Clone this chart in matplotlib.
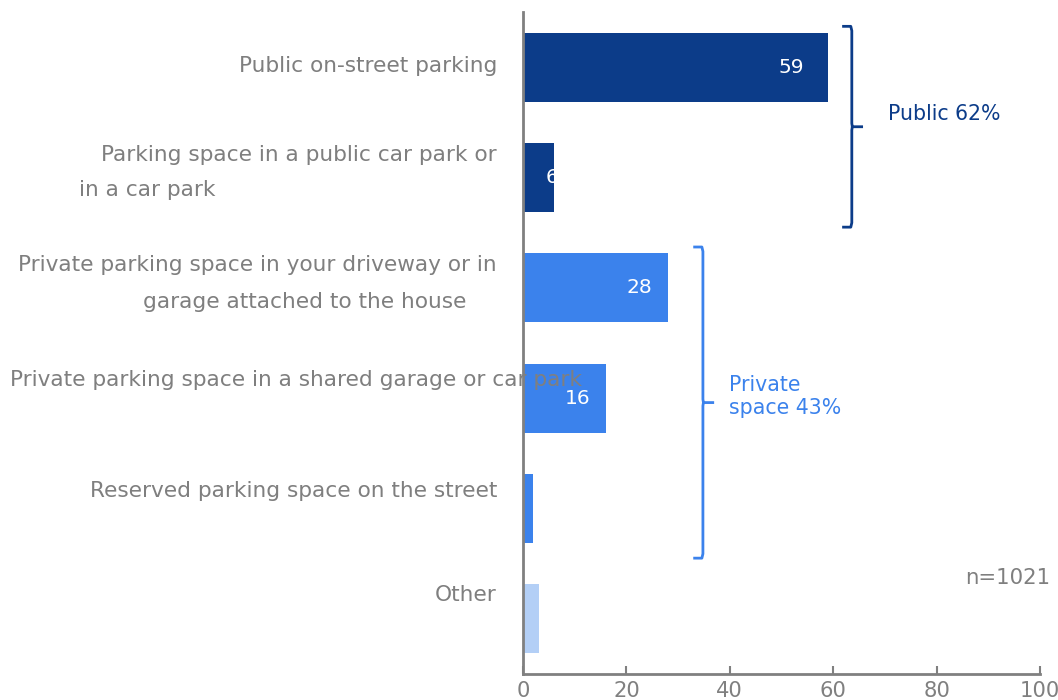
import matplotlib.pyplot as plt
import matplotlib.transforms as mtransforms

plt.rcParams['font.family'] = ['DejaVu Sans']

categories = [
    "Public on-street parking",
    "Parking space in a public car park or\nin a car park",
    "Private parking space in your driveway or in\ngarage attached to the house",
    "Private parking space in a shared garage or car park",
    "Reserved parking space on the street",
    "Other",
]
values = [59, 6, 28, 16, 2, 3]
shown_values = [59, 6, 28, 16, None, None]
groups = ["public", "public", "private", "private", "private", "other"]

group_names = ["public", "private"]
group_labels = ["Public 62%", "Private\nspace 43%"]
sample_note = "n=1021"

palette = {"public": "#0c3c89", "private": "#3b82ec", "other": "#b3cff6"}
label_gray = "#7f7f7f"

# per label line: (ha, x offset from axis in px, y offset from bar centre in px)
line_layout = [
    [("right", -26, -1)],
    [("right", -26, -23), ("left", -444, 12)],
    [("right", -26, -23), ("right", -57, 14)],
    [("left", -513, -18)],
    [("right", -26, -18)],
    [("right", -26, -24)],
]
# horizontal nudge of each value label from the bar end, px
value_dx = [-24, 4, -16, -15, 0, 0]
# bracket distance past the longest bar of the group; text offsets in px
bracket_pad = [4.6, 6.8]
bracket_text_dx = [36, 26]
bracket_text_dy = [13, 6]

fig = plt.figure(figsize=(10.58, 7), dpi=100)
ax = fig.add_axes([523 / 1058, 26 / 700, 517 / 1058, 662 / 700])

ypos = list(range(len(categories)))
bars = ax.barh(ypos, values, height=0.627, color=[palette[g] for g in groups])
ax.set_xlim(0, 100)
ax.set_ylim(len(categories) - 0.5, -0.5)

ax.set_yticks([])
ax.set_xticks(range(0, 101, 20))
ax.tick_params(axis='x', direction='in', length=6, width=1.5, colors='#808080',
               labelsize=15.2, pad=5)
for side in ("top", "right"):
    ax.spines[side].set_visible(False)
for side in ("left", "bottom"):
    ax.spines[side].set_color("#808080")
    ax.spines[side].set_linewidth(2)

# category labels, placed line by line
lab_tr = mtransforms.blended_transform_factory(ax.transAxes, ax.transData)
for i, (name, layout) in enumerate(zip(categories, line_layout)):
    for line, (ha, dx, dy) in zip(name.split("\n"), layout):
        ax.annotate(line, xy=(0, i), xycoords=lab_tr,
                    xytext=(dx * 0.72, -dy * 0.72), textcoords='offset points',
                    ha=ha, va='center', fontsize=15.6, color=label_gray,
                    annotation_clip=False)

# value labels inside the bars, clipped to the bar
for i, v in enumerate(shown_values):
    if v is None:
        continue
    t = ax.annotate(str(v), xy=(v, i), xytext=(value_dx[i] * 0.72, 0), textcoords='offset points',
                    ha='right', va='center', fontsize=14.5, color='white')
    t.set_clip_path(bars.patches[i])

# brackets grouping the bars
for k, name in enumerate(group_names):
    idx = [i for i, g in enumerate(groups) if g == name]
    top, bottom = idx[0] - 0.37, idx[-1] + 0.45
    mid = (top + bottom) / 2
    x = max(values[i] for i in idx) + bracket_pad[k]
    col = palette[name]
    ax.plot([x - 1.6, x - 0.2, x, x, x + 0.1, x + 1.9], [top, top, top + 0.04, mid - 0.03, mid, mid],
            color=col, lw=2, clip_on=False, solid_joinstyle='round')
    ax.plot([x - 1.6, x - 0.2, x, x, x + 0.1], [bottom, bottom, bottom - 0.04, mid + 0.03, mid],
            color=col, lw=2, clip_on=False, solid_joinstyle='round')
    ax.annotate(group_labels[k], xy=(x, mid),
                xytext=(bracket_text_dx[k] * 0.72, bracket_text_dy[k] * 0.72),
                textcoords='offset points', ha='left', va='center',
                fontsize=14.8, color=col, linespacing=1.2)

fig.text(1050 / 1058, 1 - 578 / 700, sample_note, ha='right', va='center',
         fontsize=15.3, color=label_gray)

fig.savefig("out.png", dpi=100)
